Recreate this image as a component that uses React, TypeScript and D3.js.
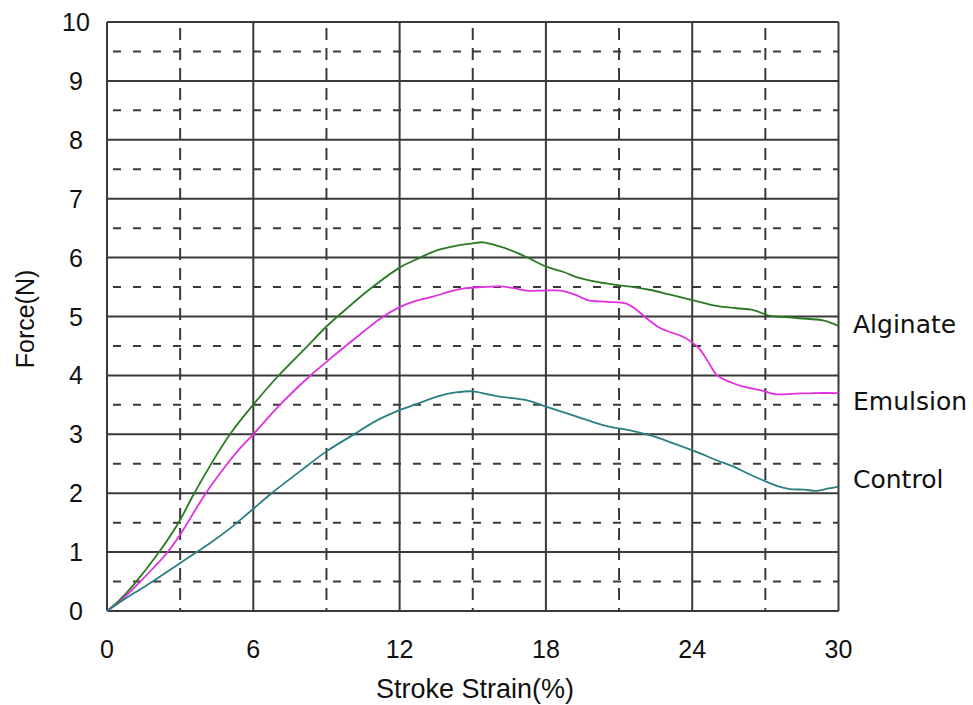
import React from "react";
import * as d3 from "d3";

const xTicks = [0, 6, 12, 18, 24, 30];
const xMinor = [3, 9, 15, 21, 27];
const yTicks = [0, 1, 2, 3, 4, 5, 6, 7, 8, 9, 10];
const yMinor = [0.5, 1.5, 2.5, 3.5, 4.5, 5.5, 6.5, 7.5, 8.5, 9.5];

const alginate: [number, number][] = [
  [0, 0], [0.5, 0.18], [1.08, 0.44], [2.1, 0.98], [2.92, 1.49], [3.54, 1.97],
  [4.22, 2.46], [4.63, 2.74], [5.11, 3.04], [5.93, 3.47], [7.02, 3.99], [8.18, 4.48],
  [9.0, 4.83], [9.9, 5.16], [10.8, 5.47], [12.0, 5.83], [12.8, 5.99], [13.5, 6.12],
  [14.3, 6.2], [15.0, 6.24], [15.4, 6.26], [16.1, 6.19], [16.7, 6.1], [17.3, 5.99],
  [18.0, 5.85], [18.7, 5.76], [19.4, 5.65], [20.2, 5.58], [21.0, 5.53], [21.6, 5.5],
  [22.3, 5.45], [23.1, 5.37], [24.0, 5.28], [25.0, 5.18], [25.8, 5.14], [26.5, 5.11],
  [27.2, 5.01], [27.8, 4.99], [28.4, 4.97], [29.4, 4.93], [30, 4.84],
];

const emulsion: [number, number][] = [
  [0, 0], [0.5, 0.15], [1.22, 0.44], [1.9, 0.73], [2.45, 0.98], [2.99, 1.29],
  [4.02, 1.98], [4.84, 2.45], [5.45, 2.76], [6.0, 3.0], [7.09, 3.5], [8.32, 3.99],
  [9.0, 4.23], [10.09, 4.6], [11.26, 4.98], [12.0, 5.16], [12.7, 5.27], [13.4, 5.34],
  [14.0, 5.42], [14.7, 5.48], [15.4, 5.5], [16.1, 5.51], [16.7, 5.48], [17.2, 5.44],
  [17.9, 5.44], [18.6, 5.44], [19.2, 5.37], [19.7, 5.28], [20.5, 5.25], [21.3, 5.22],
  [21.7, 5.12], [22.1, 4.98], [22.7, 4.8], [23.2, 4.72], [23.6, 4.66], [24.0, 4.56],
  [24.3, 4.45], [24.7, 4.2], [25.0, 4.01], [25.6, 3.88], [26.1, 3.81], [26.8, 3.75],
  [27.4, 3.68], [28.2, 3.69], [29.0, 3.7], [30, 3.7],
];

const control: [number, number][] = [
  [0, 0], [0.9, 0.25], [1.76, 0.47], [2.99, 0.81], [3.6, 0.98], [4.22, 1.15],
  [5.1, 1.42], [5.93, 1.71], [6.75, 2.0], [7.91, 2.37], [9.0, 2.71], [10.09, 2.99],
  [11.0, 3.22], [12.0, 3.41], [12.8, 3.53], [13.6, 3.65], [14.3, 3.71], [15.0, 3.73],
  [15.6, 3.68], [16.1, 3.64], [17.2, 3.58], [18.0, 3.47], [18.9, 3.35], [19.7, 3.24],
  [20.5, 3.14], [21.4, 3.07], [22.3, 2.98], [23.2, 2.85], [24.3, 2.68], [25.0, 2.56],
  [25.7, 2.45], [26.3, 2.33], [26.9, 2.22], [27.5, 2.12], [28.0, 2.07], [28.6, 2.06],
  [29.1, 2.04], [29.6, 2.08], [30, 2.11],
];

const seriesNames = ["Alginate", "Emulsion", "Control"];
const seriesData = [alginate, emulsion, control];
const seriesColors = ["#2a7a22", "#e030e0", "#2a7f80"];

export default function App() {
  const W = 973;
  const H = 705;
  const x = d3.scaleLinear().domain([0, 30]).range([107, 838.5]);
  const y = d3.scaleLinear().domain([0, 10]).range([611, 22]);
  const line = d3
    .line<[number, number]>()
    .x((d) => x(d[0]))
    .y((d) => y(d[1]))
    .curve(d3.curveCatmullRom.alpha(0.5));

  const gridColor = "#3a3a3a";
  const axisFont = "Arial, 'Liberation Sans', sans-serif";

  return (
    <svg
      width={W}
      height={H}
      style={{ position: "absolute", left: 0, top: 0, background: "#fff" }}
    >
      <rect x={0} y={0} width={W} height={H} fill="#fff" />
      {yMinor.map((v) => (
        <line
          key={"ym" + v}
          x1={x(0)}
          x2={x(30)}
          y1={y(v)}
          y2={y(v)}
          stroke={gridColor}
          strokeWidth={2}
          strokeDasharray="8,12"
          strokeDashoffset={-6}
        />
      ))}
      {xMinor.map((v) => (
        <line
          key={"xm" + v}
          x1={x(v)}
          x2={x(v)}
          y1={y(10)}
          y2={y(0)}
          stroke={gridColor}
          strokeWidth={2}
          strokeDasharray="12,8"
          strokeDashoffset={-6}
        />
      ))}
      {yTicks.map((v) => (
        <line
          key={"y" + v}
          x1={x(0)}
          x2={x(30)}
          y1={y(v)}
          y2={y(v)}
          stroke={gridColor}
          strokeWidth={2}
        />
      ))}
      {xTicks.map((v) => (
        <line
          key={"x" + v}
          x1={x(v)}
          x2={x(v)}
          y1={y(10)}
          y2={y(0)}
          stroke={gridColor}
          strokeWidth={2}
        />
      ))}
      {seriesData.map((d, i) => (
        <path
          key={seriesNames[i]}
          d={line(d) || ""}
          fill="none"
          stroke={seriesColors[i]}
          strokeWidth={1.8}
          strokeLinejoin="round"
        />
      ))}
      {yTicks.map((v) => (
        <text
          key={"yl" + v}
          x={76}
          y={y(v)}
          dy="0.36em"
          textAnchor="middle"
          fontFamily={axisFont}
          fontSize={25}
          fill="#111"
        >
          {v}
        </text>
      ))}
      {xTicks.map((v) => (
        <text
          key={"xl" + v}
          x={x(v)}
          y={658}
          textAnchor="middle"
          fontFamily={axisFont}
          fontSize={25}
          fill="#111"
        >
          {v}
        </text>
      ))}
      <text
        x={475}
        y={698}
        textAnchor="middle"
        fontFamily={axisFont}
        fontSize={27}
        fill="#111"
      >
        Stroke Strain(%)
      </text>
      <text
        transform={`translate(34, ${319}) rotate(-90)`}
        textAnchor="middle"
        fontFamily={axisFont}
        fontSize={25}
        fill="#111"
      >
        Force(N)
      </text>
      {seriesNames.map((n, i) => (
        <text
          key={"lab" + n}
          x={853}
          y={[333, 410, 488][i]}
          fontFamily="'DejaVu Sans', sans-serif"
          fontSize={25}
          fill="#111"
        >
          {n}
        </text>
      ))}
    </svg>
  );
}
